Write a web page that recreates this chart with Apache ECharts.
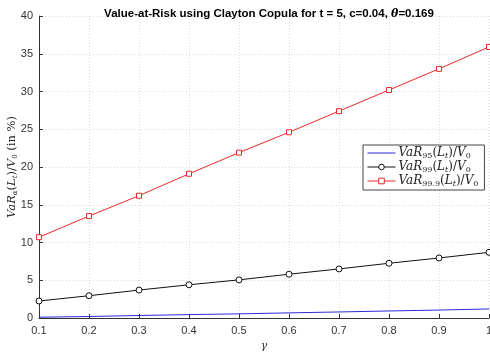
<!DOCTYPE html>
<html>
<head>
<meta charset="utf-8">
<script src="https://cdn.jsdelivr.net/npm/echarts@6/dist/echarts.min.js"></script>
<style>
  html, body { margin: 0; padding: 0; background: #fff; }
  #chart { width: 490px; height: 354px; }
</style>
</head>
<body>
<div id="chart"></div>
<script>
// Confidence parameter gamma on the x axis
const gammaValues = [0.1, 0.2, 0.3, 0.4, 0.5, 0.6, 0.7, 0.8, 0.9, 1.0];
// Value-at-Risk relative to V0, in percent
const var95 = [0.1, 0.2, 0.33, 0.45, 0.55, 0.68, 0.8, 0.93, 1.05, 1.2];
const var99 = [2.25, 2.95, 3.7, 4.4, 5.05, 5.8, 6.5, 7.25, 7.95, 8.7];
const var999 = [10.7, 13.5, 16.2, 19.1, 21.9, 24.6, 27.4, 30.2, 33.0, 35.9];
const seriesNames = ['VaR95', 'VaR99', 'VaR999'];
const subscripts = { VaR95: '95', VaR99: '99', VaR999: '99.9' };

const pair = (ys) => gammaValues.map((g, i) => [g, ys[i]]);

function mathRich(size) {
  const sub = Math.round(size * 0.65);
  const drop = Math.round(size * 0.5);
  return {
    it: { fontFamily: 'DejaVu Serif', fontStyle: 'italic', fontSize: size, color: '#222' },
    rm: { fontFamily: 'DejaVu Serif', fontSize: size, color: '#222' },
    sub: { fontFamily: 'DejaVu Serif', fontStyle: 'italic', fontSize: sub, color: '#222', verticalAlign: 'bottom', padding: [drop, 0, 0, 0] },
    subr: { fontFamily: 'DejaVu Serif', fontSize: sub, color: '#222', verticalAlign: 'bottom', padding: [drop, 0, 0, 0] }
  };
}

const chart = echarts.init(document.getElementById('chart'), null, { renderer: 'canvas' });
chart.setOption({
  animation: false,
  backgroundColor: '#fff',
  title: {
    text: 'Value-at-Risk using Clayton Copula for t = 5, c=0.04, {th|θ}=0.169',
    left: 264, textAlign: 'center', top: 3,
    textStyle: {
      fontFamily: 'Liberation Sans', fontSize: 11.5, fontWeight: 'bold', color: '#000',
      rich: { th: { fontFamily: 'DejaVu Serif', fontStyle: 'italic', fontSize: 11, color: '#000' } }
    }
  },
  grid: { left: 39, right: 1, top: 16, bottom: 36, containLabel: false, outerBoundsMode: 'none' },
  legend: {
    orient: 'vertical',
    left: 363, top: 145,
    itemWidth: 28, itemHeight: 7, itemGap: 1,
    padding: [2, 6, 2, 4],
    borderColor: '#444', borderWidth: 1, backgroundColor: '#fff',
    lineStyle: { width: 1 },
    itemStyle: { borderWidth: 1 },
    data: [
      { name: 'VaR95', itemStyle: { opacity: 0 } },
      { name: 'VaR99' },
      { name: 'VaR999' }
    ],
    formatter: (n) => '{it|VaR}{subr|' + subscripts[n] + '}{rm|(}{it|L}{sub|t}{rm|)/}{it|V}{subr|0}',
    textStyle: { rich: mathRich(12), padding: [0, 0, 0, -2] }
  },
  xAxis: {
    type: 'value', min: 0.1, max: 1, interval: 0.1,
    name: 'γ', nameLocation: 'middle', nameGap: 23, nameMoveOverlap: false,
    nameTextStyle: { fontFamily: 'DejaVu Serif', fontStyle: 'italic', fontSize: 11, color: '#333' },
    axisLine: { lineStyle: { color: '#333', width: 1 } },
    axisTick: { inside: true, length: 4, lineStyle: { color: '#333' } },
    axisLabel: { fontFamily: 'Liberation Sans', fontSize: 11, color: '#333', margin: 7, hideOverlap: false, formatter: (v) => String(+v.toFixed(1)) },
    splitLine: { show: true, lineStyle: { color: '#dcdcdc', type: [1, 2] } }
  },
  yAxis: {
    type: 'value', min: 0, max: 40, interval: 5,
    name: '{it|VaR}{sub|α}{rm|(}{it|L}{sub|t}{rm|)/}{it|V}{subr|0}{rm| (in %)}',
    nameLocation: 'middle', nameGap: 20, nameRotate: 90, nameMoveOverlap: false,
    nameTextStyle: { rich: mathRich(11.5) },
    axisLine: { show: true, lineStyle: { color: '#333', width: 1 } },
    axisTick: { show: true, inside: true, length: 4, lineStyle: { color: '#333' } },
    axisLabel: { fontFamily: 'Liberation Sans', fontSize: 11, color: '#333', margin: 6 },
    splitLine: { show: true, lineStyle: { color: '#dcdcdc', type: [1, 2] } }
  },
  series: [
    {
      name: 'VaR95', type: 'line', data: pair(var95),
      showSymbol: false, symbol: 'none',
      lineStyle: { color: '#2b2bd9', width: 1 }, itemStyle: { color: '#2b2bd9' }
    },
    {
      name: 'VaR99', type: 'line', data: pair(var99),
      symbol: 'circle', symbolSize: 6,
      lineStyle: { color: '#111', width: 1 },
      itemStyle: { color: '#fff', borderColor: '#111', borderWidth: 1 }
    },
    {
      name: 'VaR999', type: 'line', data: pair(var999),
      symbol: 'rect', symbolSize: 5,
      lineStyle: { color: '#e8292b', width: 1 },
      itemStyle: { color: '#fff', borderColor: '#e8292b', borderWidth: 1 }
    }
  ]
});
</script>
</body>
</html>
